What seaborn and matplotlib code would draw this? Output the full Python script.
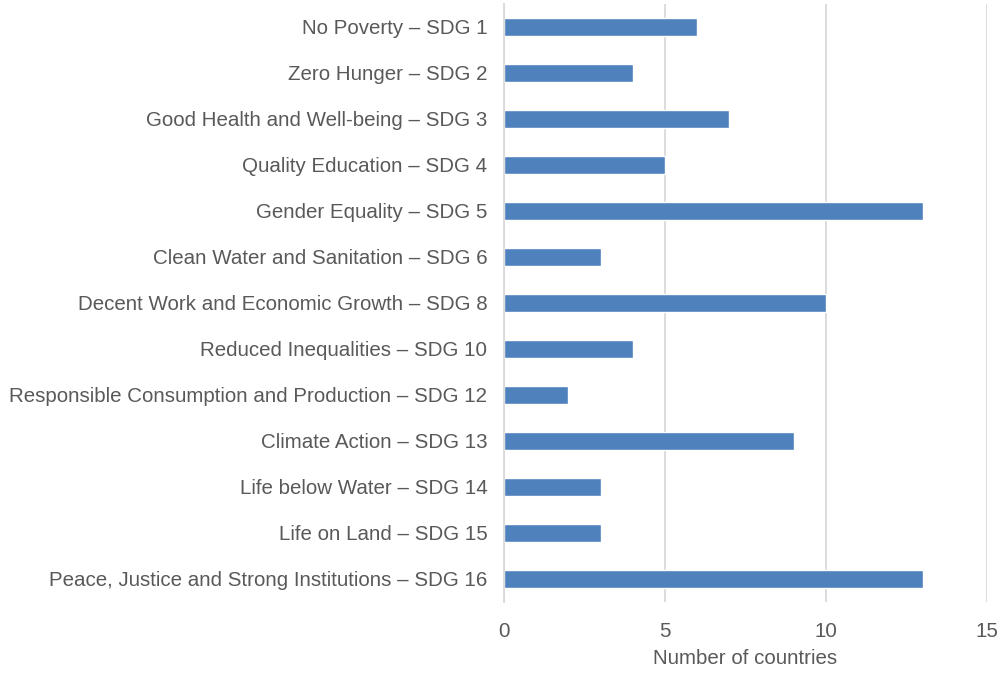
import matplotlib
matplotlib.use("Agg")
import matplotlib.pyplot as plt
import seaborn as sns
import pandas as pd

# SDG categories and number of countries
goals = [
    "No Poverty – SDG 1",
    "Zero Hunger – SDG 2",
    "Good Health and Well-being – SDG 3",
    "Quality Education – SDG 4",
    "Gender Equality – SDG 5",
    "Clean Water and Sanitation – SDG 6",
    "Decent Work and Economic Growth – SDG 8",
    "Reduced Inequalities – SDG 10",
    "Responsible Consumption and Production – SDG 12",
    "Climate Action – SDG 13",
    "Life below Water – SDG 14",
    "Life on Land – SDG 15",
    "Peace, Justice and Strong Institutions – SDG 16",
]
countries = [6, 4, 7, 5, 13, 3, 10, 4, 2, 9, 3, 3, 13]
x_ticks = [0, 5, 10, 15]

df = pd.DataFrame({"Goal": goals, "Countries": countries})

sns.set_style("white")
plt.rcParams["font.family"] = ["Liberation Sans", "DejaVu Sans"]
text_col = "#595959"
grid_col = "#d9d9d9"

fig = plt.figure(figsize=(10.01, 6.75), dpi=100)
ax = fig.add_axes([504 / 1001, 1 - 602 / 675, (987 - 504) / 1001, (602 - 4) / 675])

sns.barplot(data=df, x="Countries", y="Goal", orient="h", color="#4F81BD",
            width=0.39, saturation=1, ax=ax)

ax.set_xlim(0, 15)
ax.set_ylim(12.5, -0.5)
ax.set_xticks(x_ticks)
ax.grid(axis="x", color=grid_col, linewidth=1.3)
ax.set_axisbelow(True)
for side in ["top", "right", "bottom"]:
    ax.spines[side].set_visible(False)
ax.spines["left"].set_color(grid_col)
ax.spines["left"].set_linewidth(1.3)

ax.tick_params(axis="y", length=0, pad=12, labelsize=14.8, labelcolor=text_col)
ax.tick_params(axis="x", length=0, pad=14.5, labelsize=14.8, labelcolor=text_col)
ax.set_ylabel("")
ax.set_xlabel("Number of countries", fontsize=14.8, color=text_col, labelpad=6)

fig.savefig("out.png", dpi=100)
